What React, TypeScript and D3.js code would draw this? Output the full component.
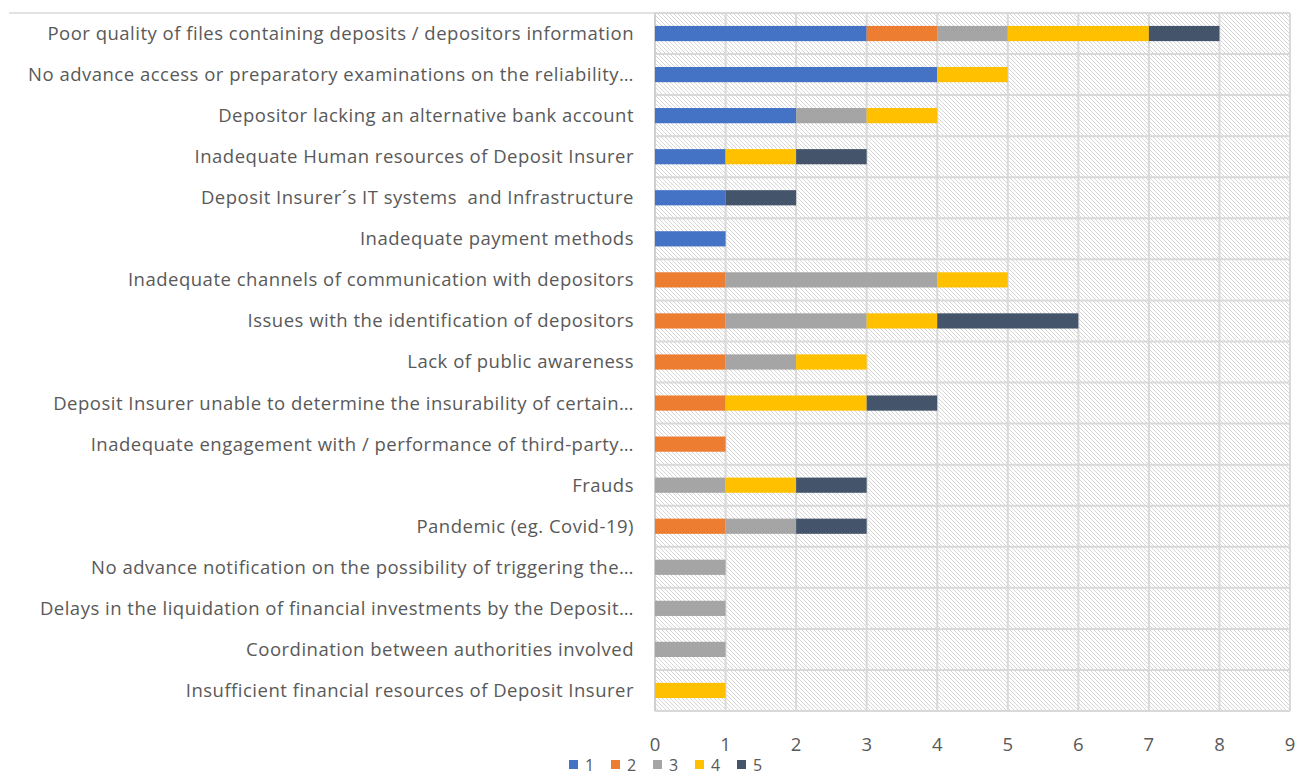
import React from "react";
import * as d3 from "d3";

const categories: string[] = [
  "Poor quality of files containing deposits / depositors information",
  "No advance access or preparatory examinations on the reliability…",
  "Depositor lacking an alternative bank account",
  "Inadequate Human resources of Deposit Insurer",
  "Deposit Insurer´s IT systems  and Infrastructure",
  "Inadequate payment methods",
  "Inadequate channels of communication with depositors",
  "Issues with the identification of depositors",
  "Lack of public awareness",
  "Deposit Insurer unable to determine the insurability of certain…",
  "Inadequate engagement with / performance of third-party…",
  "Frauds",
  "Pandemic (eg. Covid-19)",
  "No advance notification on the possibility of triggering the…",
  "Delays in the liquidation of financial investments by the Deposit…",
  "Coordination between authorities involved",
  "Insufficient financial resources of Deposit Insurer",
];

const series1: number[] = [3, 4, 2, 1, 1, 1, 0, 0, 0, 0, 0, 0, 0, 0, 0, 0, 0];
const series2: number[] = [1, 0, 0, 0, 0, 0, 1, 1, 1, 1, 1, 0, 1, 0, 0, 0, 0];
const series3: number[] = [1, 0, 1, 0, 0, 0, 3, 2, 1, 0, 0, 1, 1, 1, 1, 1, 0];
const series4: number[] = [2, 1, 1, 1, 0, 0, 1, 1, 1, 2, 0, 1, 0, 0, 0, 0, 1];
const series5: number[] = [1, 0, 0, 1, 1, 0, 0, 2, 0, 1, 0, 1, 1, 0, 0, 0, 0];

const seriesNames: string[] = ["1", "2", "3", "4", "5"];
const seriesColors: string[] = ["#4472C4", "#ED7D31", "#A5A5A5", "#FFC000", "#44546A"];
const xTicks: number[] = [0, 1, 2, 3, 4, 5, 6, 7, 8, 9];

const W = 1306;
const H = 776;
const plotLeft = 655;
const plotRight = 1290;
const plotTop = 13;
const plotBottom = 711;
const FONT = "'Open Sans', Lato, sans-serif";
const TEXT = "#595959";

export default function App() {
  const allSeries = [series1, series2, series3, series4, series5];
  const rows = categories.map((c, i) => {
    const o: any = { cat: c };
    seriesNames.forEach((s, k) => (o[s] = allSeries[k][i]));
    return o;
  });
  const stacked = d3.stack<any>().keys(seriesNames)(rows);

  const x = d3.scaleLinear().domain([0, 9]).range([plotLeft, plotRight]);
  const y = d3
    .scaleBand<string>()
    .domain(categories)
    .range([plotTop, plotBottom])
    .paddingInner(0.63)
    .paddingOuter(0.315);
  const band = (plotBottom - plotTop) / categories.length;

  const bounds = d3.range(categories.length + 1).map((i) => plotTop + i * band);

  return (
    <svg
      width={W}
      height={H}
      style={{ position: "absolute", left: 0, top: 0, background: "#fff" }}
      fontFamily={FONT}
    >
      <defs>
        <pattern id="hatch" patternUnits="userSpaceOnUse" width={4} height={4}>
          <rect width={4} height={4} fill="#ffffff" />
          <path d="M-1,-1 L5,5 M-1,3 L1,5 M3,-1 L5,1" stroke="#d6d6d6" strokeWidth={1} />
        </pattern>
      </defs>

      {/* top line extending left */}
      <line x1={9} x2={plotLeft} y1={plotTop} y2={plotTop} stroke="#c8c8c8" strokeWidth={1.2} />

      {/* plot background */}
      <rect
        x={plotLeft}
        y={plotTop}
        width={plotRight - plotLeft}
        height={plotBottom - plotTop}
        fill="url(#hatch)"
      />

      {/* vertical gridlines */}
      {xTicks.map((t) => (
        <line
          key={"vg" + t}
          x1={x(t)}
          x2={x(t)}
          y1={plotTop}
          y2={plotBottom}
          stroke="#d9d9d9"
          strokeWidth={2}
        />
      ))}
      {/* horizontal gridlines */}
      {bounds.map((b, i) => (
        <line
          key={"hg" + i}
          x1={plotLeft}
          x2={plotRight}
          y1={b}
          y2={b}
          stroke="#d9d9d9"
          strokeWidth={2}
        />
      ))}
      {/* left axis */}
      <line x1={plotLeft} x2={plotLeft} y1={plotTop} y2={plotBottom} stroke="#cfcfcf" strokeWidth={2} />

      {/* bars */}
      {stacked.map((s, k) => (
        <g key={"s" + k} fill={seriesColors[k]}>
          {s.map((d, i) =>
            d[1] - d[0] > 0 ? (
              <rect
                key={i}
                x={x(d[0])}
                y={y(categories[i])}
                width={x(d[1]) - x(d[0])}
                height={y.bandwidth()}
              />
            ) : null
          )}
        </g>
      ))}

      {/* category labels */}
      {categories.map((c) => (
        <text
          key={c}
          x={plotLeft - 21}
          y={(y(c) as number) + y.bandwidth() / 2}
          dy="0.35em"
          textAnchor="end"
          fontSize={18.5}
          letterSpacing={0.5}
          fill={TEXT}
          style={{ whiteSpace: "pre" }}
        >
          {c}
        </text>
      ))}

      {/* x tick labels */}
      {xTicks.map((t) => (
        <text
          key={"xt" + t}
          x={x(t)}
          y={745}
          dy="0.35em"
          textAnchor="middle"
          fontSize={18.5}
          fill={TEXT}
        >
          {t}
        </text>
      ))}

      {/* legend */}
      {seriesNames.map((n, k) => {
        const lx = 569 + k * 42;
        return (
          <g key={"lg" + n}>
            <rect x={lx} y={760} width={9} height={9} fill={seriesColors[k]} />
            <text x={lx + 16} y={771} fontSize={16} fill={TEXT}>
              {n}
            </text>
          </g>
        );
      })}
    </svg>
  );
}
